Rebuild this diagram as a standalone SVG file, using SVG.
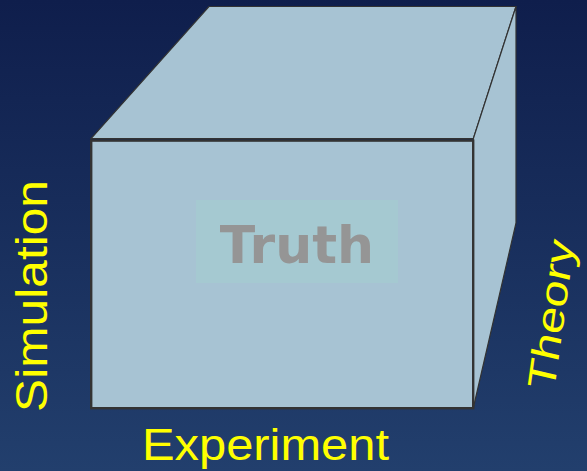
<svg xmlns="http://www.w3.org/2000/svg" width="587" height="471" viewBox="0 0 587 471">
  <defs>
    <linearGradient id="bg" x1="0" y1="0" x2="0" y2="1">
      <stop offset="0" stop-color="#0f1e4c"/>
      <stop offset="1" stop-color="#223f6d"/>
    </linearGradient>
    <style>
      .face { fill: #a7c3d3; stroke: #333333; stroke-width: 1.2; stroke-linejoin: miter; }
      .front { fill: #a7c3d3; stroke: #333333; stroke-width: 2.4; }
      .label { font-family: "Liberation Sans", Arial, sans-serif; font-size: 44px; fill: #ffff00; }
      .truth { font-family: "DejaVu Sans", Verdana, sans-serif; font-weight: bold; font-size: 52px; fill: #959595; }
    </style>
  </defs>
  <rect x="0" y="0" width="587" height="471" fill="url(#bg)"/>

  <g id="cube">
    <polygon id="top-face" class="face" points="91,138.7 209,6.5 516,6.5 473.3,138.7"/>
    <polygon id="right-face" class="face" points="473.3,138.7 516,6.5 516,223 473.3,408"/>
    <rect id="front-face" class="front" x="91.2" y="140.6" width="382" height="267.6"/>
  </g>

  <g id="truth">
    <rect x="196" y="200" width="202" height="83" fill="#a5c9d1"/>
    <text class="truth" x="297" y="263" text-anchor="middle">Truth</text>
  </g>

  <g id="labels">
    <text id="experiment" class="label" x="142" y="460" textLength="247" lengthAdjust="spacingAndGlyphs">Experiment</text>
    <text id="simulation" class="label" transform="translate(46.5,412) rotate(-90)" textLength="232" lengthAdjust="spacingAndGlyphs">Simulation</text>
    <text id="theory" class="label" transform="matrix(0.15 -1.085 0.87 0.2 554 391.8)">Theory</text>
  </g>
</svg>
